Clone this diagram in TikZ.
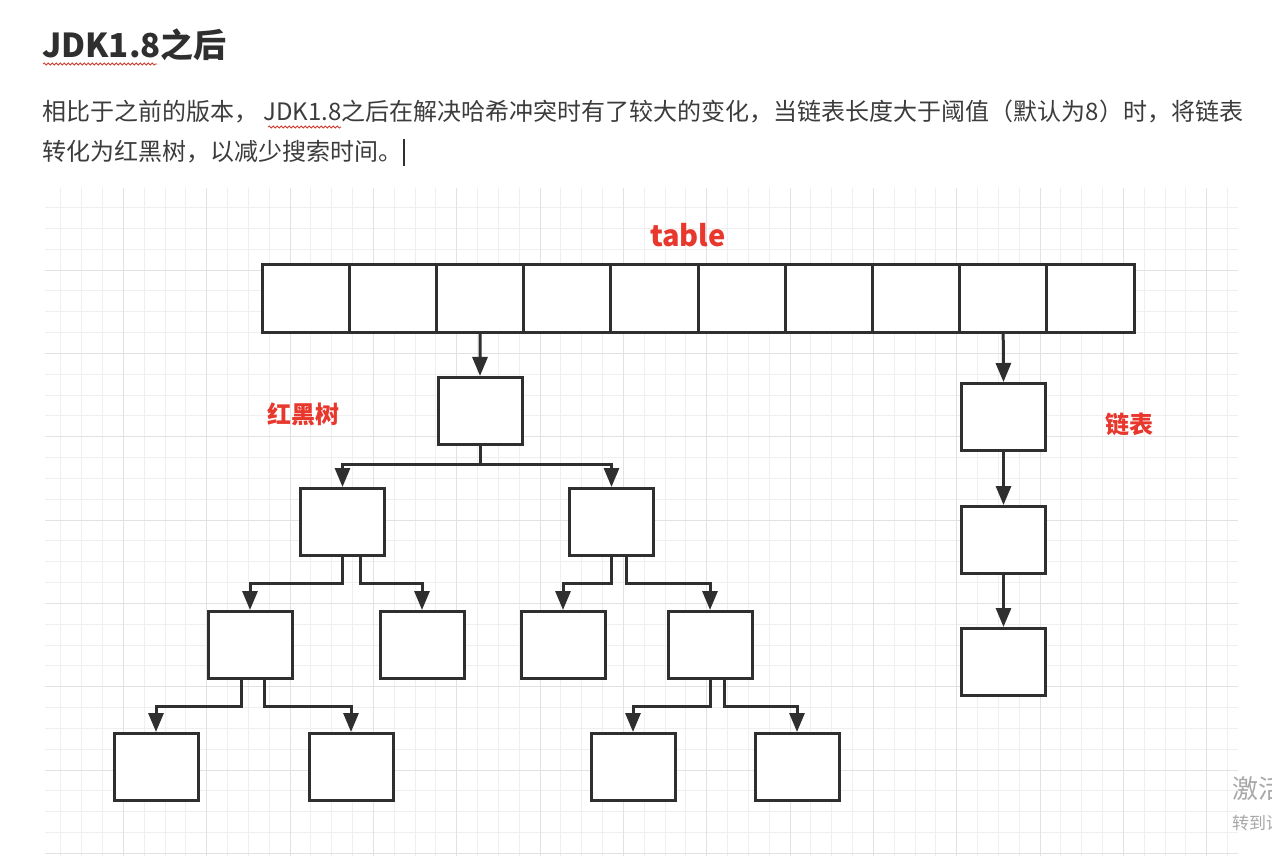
\documentclass[tikz,border=0pt]{standalone}
\usepackage{fontspec}
\newfontfamily\cjk{Noto Sans CJK SC}
\usetikzlibrary{arrows.meta,decorations.pathmorphing}

\definecolor{ink}{HTML}{2F2F2F}
\definecolor{bodytext}{HTML}{3C3C3C}
\definecolor{labelred}{HTML}{E8372C}
\definecolor{spellred}{HTML}{D23A2E}
\definecolor{gridminor}{HTML}{EFEFEF}
\definecolor{gridmajor}{HTML}{E2E2E2}
\definecolor{wmgray}{HTML}{A8A8A8}

\begin{document}
\begin{tikzpicture}[x=1pt,y=-1pt,
  cell/.style={draw=ink, line width=3pt, fill=white, inner sep=0pt,
    minimum width=87.2pt, minimum height=68pt},
  box/.style={draw=ink, line width=3pt, fill=white, inner sep=0pt,
    minimum width=84pt, minimum height=67pt},
  arr/.style={draw=ink, line width=3pt,
    -{Triangle[length=19pt,width=15pt]}},
  redlabel/.style={text=labelred, font=\cjk\bfseries\fontsize{24}{28}\selectfont, inner sep=0pt},
  bodyline/.style={text=bodytext, font=\cjk\fontsize{24}{28}\selectfont, inner sep=0pt, anchor=base west},
  spell/.style={draw=spellred, line width=0.8pt, decorate,
    decoration={snake, amplitude=1pt, segment length=4pt}}]

\useasboundingbox (0,0) rectangle (1272,858);
\fill[white] (0,0) rectangle (1272,858);

% heading and paragraph
\node[text=ink, font=\cjk\bfseries\fontsize{33}{38}\selectfont, inner sep=0pt, anchor=base west]
  (heading) at (42,58) {JDK1.8之后};
\draw[spell] (43,64) -- (157,64);

\node[bodyline] (line1) at (42,121)
  {相比于之前的版本， JDK1.8之后在解决哈希冲突时有了较大的变化，当链表长度大于阈值（默认为8）时，将链表};
\node[bodyline] (line2) at (42,161) {转化为红黑树，以减少搜索时间。};
\draw[spell] (268,127) -- (341,127);
\draw[ink, line width=1.4pt] (404,139) -- (404,166);

% squared paper background
\begin{scope}
  \clip (45,188) rectangle (1238,856);
  \foreach \i in {0,...,58}
    \draw[gridminor, line width=1pt] ({40+\i*20.8333},188) -- ++(0,668);
  \foreach \j in {0,...,32}
    \draw[gridminor, line width=1pt] (45,{186.67+\j*20.8333}) -- (1238,{186.67+\j*20.8333});
  \foreach \i in {0,4,...,56}
    \draw[gridmajor, line width=1pt] ({40+\i*20.8333},188) -- ++(0,668);
  \foreach \j in {0,4,...,32}
    \draw[gridmajor, line width=1pt] (45,{186.67+\j*20.8333}) -- (1238,{186.67+\j*20.8333});
\end{scope}

% hash table
\node[text=labelred, font=\cjk\bfseries\fontsize{29}{34}\selectfont, inner sep=0pt]
  (tablelabel) at (688,235) {table};
\foreach \k in {1,...,10}
  \node[cell] (t\k) at ({262+(\k-0.5)*87.2},298.5) {};

% red-black tree
\node[redlabel] (rbtlabel) at (303,414) {红黑树};
\node[box] (root) at (480,411) {};
\node[box] (L)    at (342.5,522) {};
\node[box] (R)    at (611.5,522) {};
\node[box] (LL)   at (250,645) {};
\node[box] (LR)   at (422,645) {};
\node[box] (RL)   at (563,645) {};
\node[box] (RR)   at (710,645) {};
\node[box] (LLL)  at (156,767) {};
\node[box] (LLR)  at (351,767) {};
\node[box] (RRL)  at (633,767) {};
\node[box] (RRR)  at (797,767) {};

\draw[arr] (t3.south) -- (root.north);
\draw[arr] (root.south) -- ++(0,18) -| (L.north);
\draw[arr] (root.south) -- ++(0,18) -| (R.north);
\draw[arr] (L.south) -- ++(0,26) -| (LL.north);
\draw[arr] ([xshift=18pt]L.south) -- ++(0,26) -| (LR.north);
\draw[arr] (R.south) -- ++(0,26) -| (RL.north);
\draw[arr] ([xshift=15pt]R.south) -- ++(0,26) -| (RR.north);
\draw[arr] ([xshift=-9pt]LL.south) -- ++(0,26) -| (LLL.north);
\draw[arr] ([xshift=14pt]LL.south) -- ++(0,26) -| (LLR.north);
\draw[arr] (RR.south) -- ++(0,26) -| (RRL.north);
\draw[arr] ([xshift=14pt]RR.south) -- ++(0,26) -| (RRR.north);

% linked list
\node[redlabel] (listlabel) at (1129,424) {链表};
\node[box] (n1) at (1003.5,417) {};
\node[box] (n2) at (1003.5,540) {};
\node[box] (n3) at (1003.5,662) {};
\draw[arr] (t9.south) -- (n1.north);
\draw[arr] (n1.south) -- (n2.north);
\draw[arr] (n2.south) -- (n3.north);

% system notice in the lower right corner, running off the edge
\begin{scope}
  \clip (0,0) rectangle (1272,858);
  \node[text=wmgray, font=\cjk\fontsize{26}{30}\selectfont, inner sep=0pt, anchor=base west]
    (wm1) at (1232,798) {激活 Windows};
  \node[text=wmgray, font=\cjk\fontsize{17}{20}\selectfont, inner sep=0pt, anchor=base west]
    (wm2) at (1232,829) {转到设置以激活 Windows。};
\end{scope}
\end{tikzpicture}
\end{document}
